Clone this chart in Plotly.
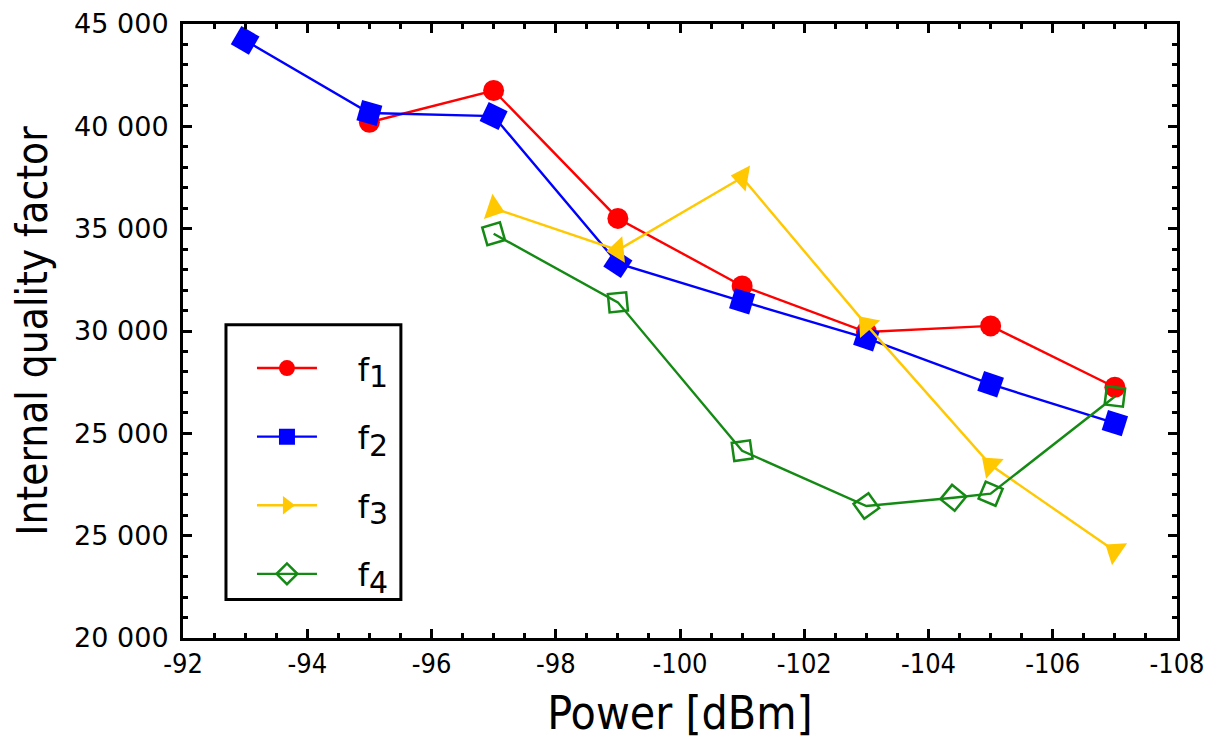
import math
import plotly.graph_objects as go

# Data (Power in dBm, internal quality factor)
x_f1 = [-95, -97, -99, -101, -103, -105, -107]
q_f1 = [40200, 41750, 35500, 32200, 29950, 30250, 27250]

x_f2 = [-93, -95, -97, -99, -101, -103, -105, -107]
q_f2 = [44200, 40650, 40500, 33300, 31450, 29650, 27400, 25500]

x_f3 = [-97, -99, -101, -103, -105, -107]
q_f3 = [36000, 33950, 37500, 30300, 23450, 19250]

x_f4 = [-97, -99, -101, -103, -104.4, -105, -107]
q_f4 = [34750, 31400, 24150, 21450, 21850, 22050, 26800]

y_tickvals = [15000, 20000, 25000, 30000, 35000, 40000, 45000]
y_ticktext = ["20 000", "25 000", "25 000", "30 000", "35 000", "40 000", "45 000"]
x_tickvals = [-92, -94, -96, -98, -100, -102, -104, -106, -108]
x_ticktext = ["-92", "-94", "-96", "-98", "-100", "-102", "-104", "-106", "-108"]

X_RANGE = [-92, -108]
Y_RANGE = [15000, 45000]
OFF = 8  # page body margin
W, H = 1218 - OFF, 740 - OFF
M = dict(l=175, r=40.5, t=16, b=101.5)
PW = W - M["l"] - M["r"]
PH = H - M["t"] - M["b"]


def px(xabs):
    return (xabs - OFF - M["l"]) / PW


def py(yabs):
    return 1 - (yabs - OFF - M["t"]) / PH


def tangent_angles(xs, ys, offset=0.0, first_offset=None):
    """Marker rotation (deg, clockwise) following the local line direction on screen."""
    sx = PW / (X_RANGE[1] - X_RANGE[0])
    sy = -PH / (Y_RANGE[1] - Y_RANGE[0])
    seg = [math.degrees(math.atan2((ys[i + 1] - ys[i]) * sy, (xs[i + 1] - xs[i]) * sx))
           for i in range(len(xs) - 1)]
    out = []
    for i in range(len(xs)):
        if i == 0:
            a = seg[0] + (offset if first_offset is None else first_offset)
        elif i == len(xs) - 1:
            a = seg[-1] + offset
        else:
            a = (seg[i - 1] + seg[i]) / 2 + offset
        out.append(a)
    return out


series = [
    ("1", x_f1, q_f1, "#ff0000", "circle", 21, 0, None),
    ("2", x_f2, q_f2, "#0000ff", "square", 21, 0, None),
    ("3", x_f3, q_f3, "#ffc800", "triangle-right", 23, 180, 0),
    ("4", x_f4, q_f4, "#148a14", "diamond-open", 20, 0, None),
]

fig = go.Figure()
for i, (idx, xs, ys, color, sym, size, off, foff) in enumerate(series):
    mline = dict(color=color, width=2.5 if "open" in sym else 0)
    fig.add_trace(go.Scatter(
        x=xs, y=ys, name="f" + idx, mode="lines+markers", showlegend=False,
        line=dict(color=color, width=2.4),
        marker=dict(symbol=sym, size=size, color=color, angleref="up",
                    angle=tangent_angles(xs, ys, off, foff), line=mline),
    ))

# legend entries (unrotated symbols)
for i, (idx, xs, ys, color, sym, size, off, foff) in enumerate(series):
    label = "\u00a0\u00a0\u00a0\u2006f<sub><span style='font-size:30px'>%s</span></sub>" % idx
    fig.add_trace(go.Scatter(
        x=[None], y=[None], name=label, mode="lines+markers",
        legendgroup=f"g{i}",
        line=dict(color=color, width=2.4),
        marker=dict(symbol=sym, size=size, color=color,
                    line=dict(color=color, width=2.5 if "open" in sym else 0)),
    ))

axis_common = dict(
    showline=True, linecolor="black", linewidth=3, mirror="allticks",
    ticks="inside", ticklen=9, tickwidth=3, tickcolor="black",
    showgrid=False, zeroline=False, automargin=False,
)

fig.update_xaxes(
    **axis_common,
    range=X_RANGE, tickvals=x_tickvals, ticktext=x_ticktext,
    tickfont=dict(family="DejaVu Sans Condensed, DejaVu Sans", size=27, color="black"),
    minor=dict(ticks="inside", ticklen=5, tickwidth=3, tickcolor="black", dtick=0.5, tick0=-92),
    title=dict(text="Power [dBm]", font=dict(family="DejaVu Sans Condensed, DejaVu Sans", size=46, color="black"), standoff=26),
)
fig.update_yaxes(
    **axis_common,
    range=Y_RANGE, tickvals=y_tickvals, ticktext=y_ticktext,
    tickfont=dict(family="DejaVu Sans", size=27, color="black"),
    ticklabelstandoff=6,
    minor=dict(ticks="inside", ticklen=5, tickwidth=3, tickcolor="black", dtick=1000, tick0=15000),
    title=dict(text="Internal quality factor", font=dict(family="DejaVu Sans Condensed, DejaVu Sans", size=42, color="black"), standoff=14),
)

fig.update_layout(
    width=W, height=H,
    margin=M,
    plot_bgcolor="white", paper_bgcolor="white",
    showlegend=True,
    legend=dict(
        x=px(252), y=py(341), xanchor="left", yanchor="top",
        bgcolor="rgba(0,0,0,0)", borderwidth=0,
        font=dict(family="DejaVu Sans", size=32, color="black"),
        itemwidth=60, tracegroupgap=24,
    ),
    shapes=[dict(type="rect", xref="paper", yref="paper",
                 x0=px(226), x1=px(401), y0=py(600), y1=py(325),
                 line=dict(color="black", width=3), fillcolor="white", layer="below")],
)

fig.write_html("out.html")
